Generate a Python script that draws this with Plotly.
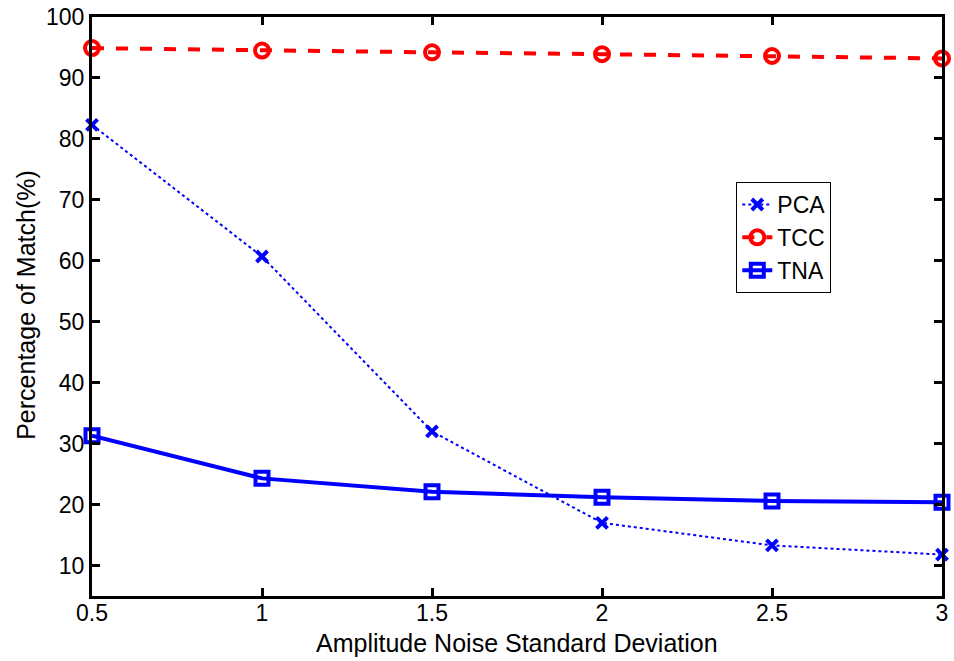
import plotly.graph_objects as go

x_vals = [0.5, 1, 1.5, 2, 2.5, 3]
pca = [82.3, 60.7, 32.0, 17.0, 13.3, 11.8]
tcc = [94.9, 94.5, 94.2, 93.9, 93.6, 93.2]
tna = [31.3, 24.3, 22.1, 21.2, 20.6, 20.4]
x_ticks = [0.5, 1, 1.5, 2, 2.5, 3]
x_tick_labels = ["0.5", "1", "1.5", "2", "2.5", "3"]
y_ticks = [10, 20, 30, 40, 50, 60, 70, 80, 90, 100]
x_title = "Amplitude Noise Standard Deviation"
y_title = "Percentage of Match(%)"

FONT = "Liberation Sans, Arial, sans-serif"

fig = go.Figure()
fig.add_trace(go.Scatter(x=x_vals, y=pca, name="PCA", mode="lines+markers",
                         line=dict(color="#0000ff", width=2, dash="dot"),
                         marker=dict(symbol="x-thin-open", size=11, color="#0000ff",
                                     line=dict(width=4, color="#0000ff")),
                         cliponaxis=False))
fig.add_trace(go.Scatter(x=x_vals, y=tcc, name="TCC", mode="lines+markers",
                         line=dict(color="#ff0000", width=4, dash="dash"),
                         marker=dict(symbol="circle-open", size=14, color="#ff0000",
                                     line=dict(width=4, color="#ff0000")),
                         cliponaxis=False))
fig.add_trace(go.Scatter(x=x_vals, y=tna, name="TNA", mode="lines+markers",
                         line=dict(color="#0000ff", width=4),
                         marker=dict(symbol="square-open", size=13, color="#0000ff",
                                     line=dict(width=4, color="#0000ff")),
                         cliponaxis=False))

axis_common = dict(showgrid=False, zeroline=False, showline=True, linecolor="black",
                   linewidth=3, mirror="ticks", ticks="inside", ticklen=8, tickwidth=3,
                   tickcolor="black", automargin=False,
                   tickfont=dict(family=FONT, size=23, color="black"))

fig.update_layout(
    width=954, height=661,
    margin=dict(l=92, r=12, t=17, b=65),
    paper_bgcolor="white", plot_bgcolor="white",
    font=dict(family=FONT, size=22, color="black"),
    xaxis=dict(range=[0.5, 3], tickvals=x_ticks, ticktext=x_tick_labels,
               ticklabelstandoff=-6, **axis_common),
    yaxis=dict(range=[5, 100], tickvals=y_ticks, **axis_common),
    legend=dict(x=0.758, y=0.715, xanchor="left", yanchor="top",
                bordercolor="black", borderwidth=1, bgcolor="white",
                font=dict(size=23), tracegroupgap=0),
    showlegend=True,
    annotations=[
        dict(text=x_title, xref="paper", yref="paper", x=0.5, y=-0.081,
             xanchor="center", yanchor="middle", showarrow=False,
             font=dict(family=FONT, size=25, color="black")),
        dict(text=y_title, xref="paper", yref="paper", x=-0.0776, y=0.503,
             xanchor="center", yanchor="middle", showarrow=False, textangle=-90,
             font=dict(family=FONT, size=25, color="black")),
    ],
)

fig.write_html("out.html")
